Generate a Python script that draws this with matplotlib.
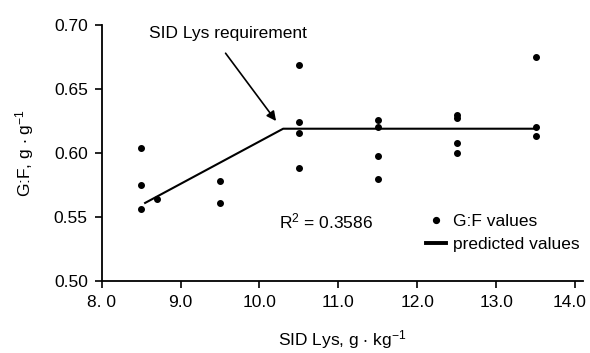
import matplotlib
matplotlib.use('Agg')
import matplotlib.pyplot as plt
from matplotlib.lines import Line2D
from matplotlib.transforms import ScaledTranslation

plt.rcParams['font.family'] = ['Liberation Sans', 'DejaVu Sans']
plt.rcParams['mathtext.fontset'] = 'custom'
plt.rcParams['mathtext.rm'] = 'Liberation Sans'
plt.rcParams['mathtext.default'] = 'regular'

# G:F observations
lys_obs = [8.5, 8.5, 8.5, 8.7, 9.5, 9.5,
           10.5, 10.5, 10.5, 10.5,
           11.5, 11.5, 11.5, 11.5,
           12.5, 12.5, 12.5, 12.5,
           13.5, 13.5, 13.5]
gf_obs = [0.604, 0.575, 0.556, 0.564, 0.578, 0.561,
          0.669, 0.624, 0.616, 0.588,
          0.626, 0.620, 0.598, 0.580,
          0.630, 0.627, 0.608, 0.600,
          0.675, 0.620, 0.613]

# broken-line fit
lys_fit = [8.55, 10.3, 13.5]
gf_fit = [0.561, 0.619, 0.619]

x_ticks = [8, 9, 10, 11, 12, 13, 14]
x_tick_labels = ['8. 0', '9.0', '10.0', '11.0', '12.0', '13.0', '14.0']
y_ticks = [0.50, 0.55, 0.60, 0.65, 0.70]
y_tick_labels = ['0.50', '0.55', '0.60', '0.65', '0.70']

fs = 12.5

fig = plt.figure(figsize=(5.9, 3.53), dpi=100)
ax = fig.add_axes([0.1724, 0.204, 0.8156, 0.725])

ax.scatter(lys_obs, gf_obs, s=16, color='black', zorder=3)
ax.plot(lys_fit, gf_fit, color='black', lw=1.5)

ax.set_xlim(8, 14.1)
ax.set_ylim(0.5, 0.7)
ax.set_xticks(x_ticks)
ax.set_xticklabels(x_tick_labels)
ax.set_yticks(y_ticks)
ax.set_yticklabels(y_tick_labels)
ax.tick_params(direction='out', length=5, width=1.2, labelsize=fs, pad=5)

# last label sits a little left of its tick, as in the original
last = ax.get_xticklabels()[-1]
last.set_transform(last.get_transform() + ScaledTranslation(-4 / 72, 0, fig.dpi_scale_trans))

ax.spines['top'].set_visible(False)
ax.spines['right'].set_visible(False)
ax.spines['left'].set_linewidth(1.3)
ax.spines['bottom'].set_linewidth(1.3)

ax.set_xlabel(r'SID Lys, g $\cdot$ kg$^{-1}$', fontsize=fs, labelpad=13)
ax.set_ylabel(r'G:F, g $\cdot$ g$^{-1}$', fontsize=fs, labelpad=13)

ax.text(9.6, 0.690, 'SID Lys requirement', fontsize=fs, ha='center', va='baseline')
ax.annotate('', xy=(10.21, 0.625), xytext=(9.57, 0.678),
            arrowprops=dict(arrowstyle='-|>', color='black', lw=1.2,
                            mutation_scale=14, shrinkA=0, shrinkB=0))
ax.text(10.25, 0.5465, r'R$^2$ = 0.3586', fontsize=fs, va='center')

handles = [Line2D([], [], marker='o', ls='none', color='black', markersize=4.2),
           Line2D([], [], color='black', lw=2.8)]
ax.legend(handles, ['G:F values', 'predicted values'], frameon=False,
          fontsize=fs, loc='center left', bbox_to_anchor=(0.674, 0.1875),
          handlelength=1.15, handletextpad=0.42, labelspacing=0.5,
          borderpad=0, borderaxespad=0)

fig.savefig('out.png', dpi=100)
